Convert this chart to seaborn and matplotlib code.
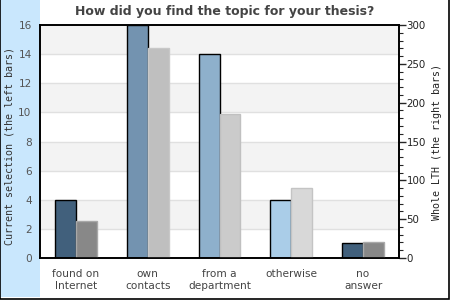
import matplotlib
matplotlib.use("Agg")
import matplotlib.pyplot as plt
import seaborn as sns
import pandas as pd
import numpy as np
from matplotlib.patches import Rectangle
from matplotlib.ticker import MultipleLocator

categories = ["found on\nInternet", "own\ncontacts", "from a\ndepartment", "otherwise", "no\nanswer"]
current_selection = [4, 16, 14, 4, 1]
whole_lth = [47, 270, 185, 90, 20]
left_colors = ["#41607c", "#7393b0", "#8eb0cc", "#aacde8", "#41607c"]
right_colors = ["#888888", "#bfbfbf", "#cbcbcb", "#d8d8d8", "#888888"]
right_edges = ["#a8a8a8", "#c8c8c8", "#c0c0c0", "#c4c4c4", "#aaaaaa"]

sns.set_style("white")
plt.rcParams["font.family"] = ["DejaVu Sans"]

fig = plt.figure(figsize=(4.5, 3.0), dpi=100)
fig.patch.set_facecolor("white")
fig.patches.append(Rectangle((0, 0.01), 40 / 450, 0.99, transform=fig.transFigure,
                             facecolor="#c9e7fd", edgecolor="none", zorder=0))
fig.patches.append(Rectangle((0.001, 0.004), 0.997, 1.2, transform=fig.transFigure,
                             facecolor="none", edgecolor="black", lw=1.2, zorder=5))

ax = fig.add_axes([40 / 450, 42 / 300, 359 / 450, 233 / 300])
ax.set_zorder(1)
ax2 = ax.twinx()
ax2.set_zorder(2)
ax.patch.set_visible(False)
ax2.patch.set_visible(False)

nan = [np.nan] * len(categories)
df_left = pd.DataFrame({"cat": categories * 2,
                        "series": ["L"] * 5 + ["R"] * 5,
                        "val": current_selection + nan})
df_right = pd.DataFrame({"cat": categories * 2,
                         "series": ["L"] * 5 + ["R"] * 5,
                         "val": nan + whole_lth})

sns.barplot(data=df_left, x="cat", y="val", hue="series", dodge=True, width=0.58,
            ax=ax, legend=False, errorbar=None, gap=0)
sns.barplot(data=df_right, x="cat", y="val", hue="series", dodge=True, width=0.58,
            ax=ax2, legend=False, errorbar=None, gap=0)

lp = [p for p in ax.patches if np.isfinite(p.get_height()) and p.get_height() > 0]
lp.sort(key=lambda p: p.get_x())
for p, c in zip(lp, left_colors):
    p.set_facecolor(c)
    p.set_edgecolor("black")
    p.set_linewidth(1.0)
rp = [p for p in ax2.patches if np.isfinite(p.get_height()) and p.get_height() > 0]
rp.sort(key=lambda p: p.get_x())
for p, c, e in zip(rp, right_colors, right_edges):
    p.set_facecolor(c)
    p.set_edgecolor(e)
    p.set_linewidth(1.0)

ax.set_xlim(-0.5, len(categories) - 0.5)
ax.set_ylim(0, 16)
ax2.set_ylim(0, 300)
ax.set_yticks(range(0, 17, 2))
ax2.yaxis.set_major_locator(MultipleLocator(50))
ax2.yaxis.set_minor_locator(MultipleLocator(10))

# background bands and gridlines on a bottom axes
bg = fig.add_axes(ax.get_position(), sharex=ax, sharey=ax)
bg.set_zorder(0)
for lo in range(2, 16, 4):
    bg.axhspan(lo, lo + 2, color="#f3f3f3", lw=0)
for y in range(2, 16, 2):
    bg.axhline(y, color="#e0e0e0", lw=1)
bg.axis("off")

ax.set_xlabel("")
ax.set_ylabel("Current selection (the left bars)", family="DejaVu Sans Mono",
              fontsize=7.2, color="#333333")
ax2.set_ylabel("Whole LTH (the right bars)", family="DejaVu Sans Mono",
               fontsize=7.2, color="#222222", rotation=90)
ax.yaxis.set_label_coords(-0.07, 0.48)
ax2.yaxis.set_label_coords(1.092, 0.5)

ax.tick_params(axis="y", length=0, labelsize=7.6, labelcolor="#555555", pad=6)
ax.tick_params(axis="x", length=0, labelsize=7.6, labelcolor="#444444", pad=8)
ax2.tick_params(axis="y", which="major", length=5, width=1, labelsize=7.4,
                labelcolor="#222222", right=True, pad=0.5)
ax2.tick_params(axis="y", which="minor", length=3, width=0.8, right=True)
for a in (ax, ax2):
    for s in a.spines.values():
        s.set_color("black")
        s.set_linewidth(1.2)

fig.text(0.5, 0.962, "How did you find the topic for your thesis?", ha="center",
         va="center", fontsize=9, fontweight="bold", color="#444444")

fig.savefig("out.png", dpi=100)
